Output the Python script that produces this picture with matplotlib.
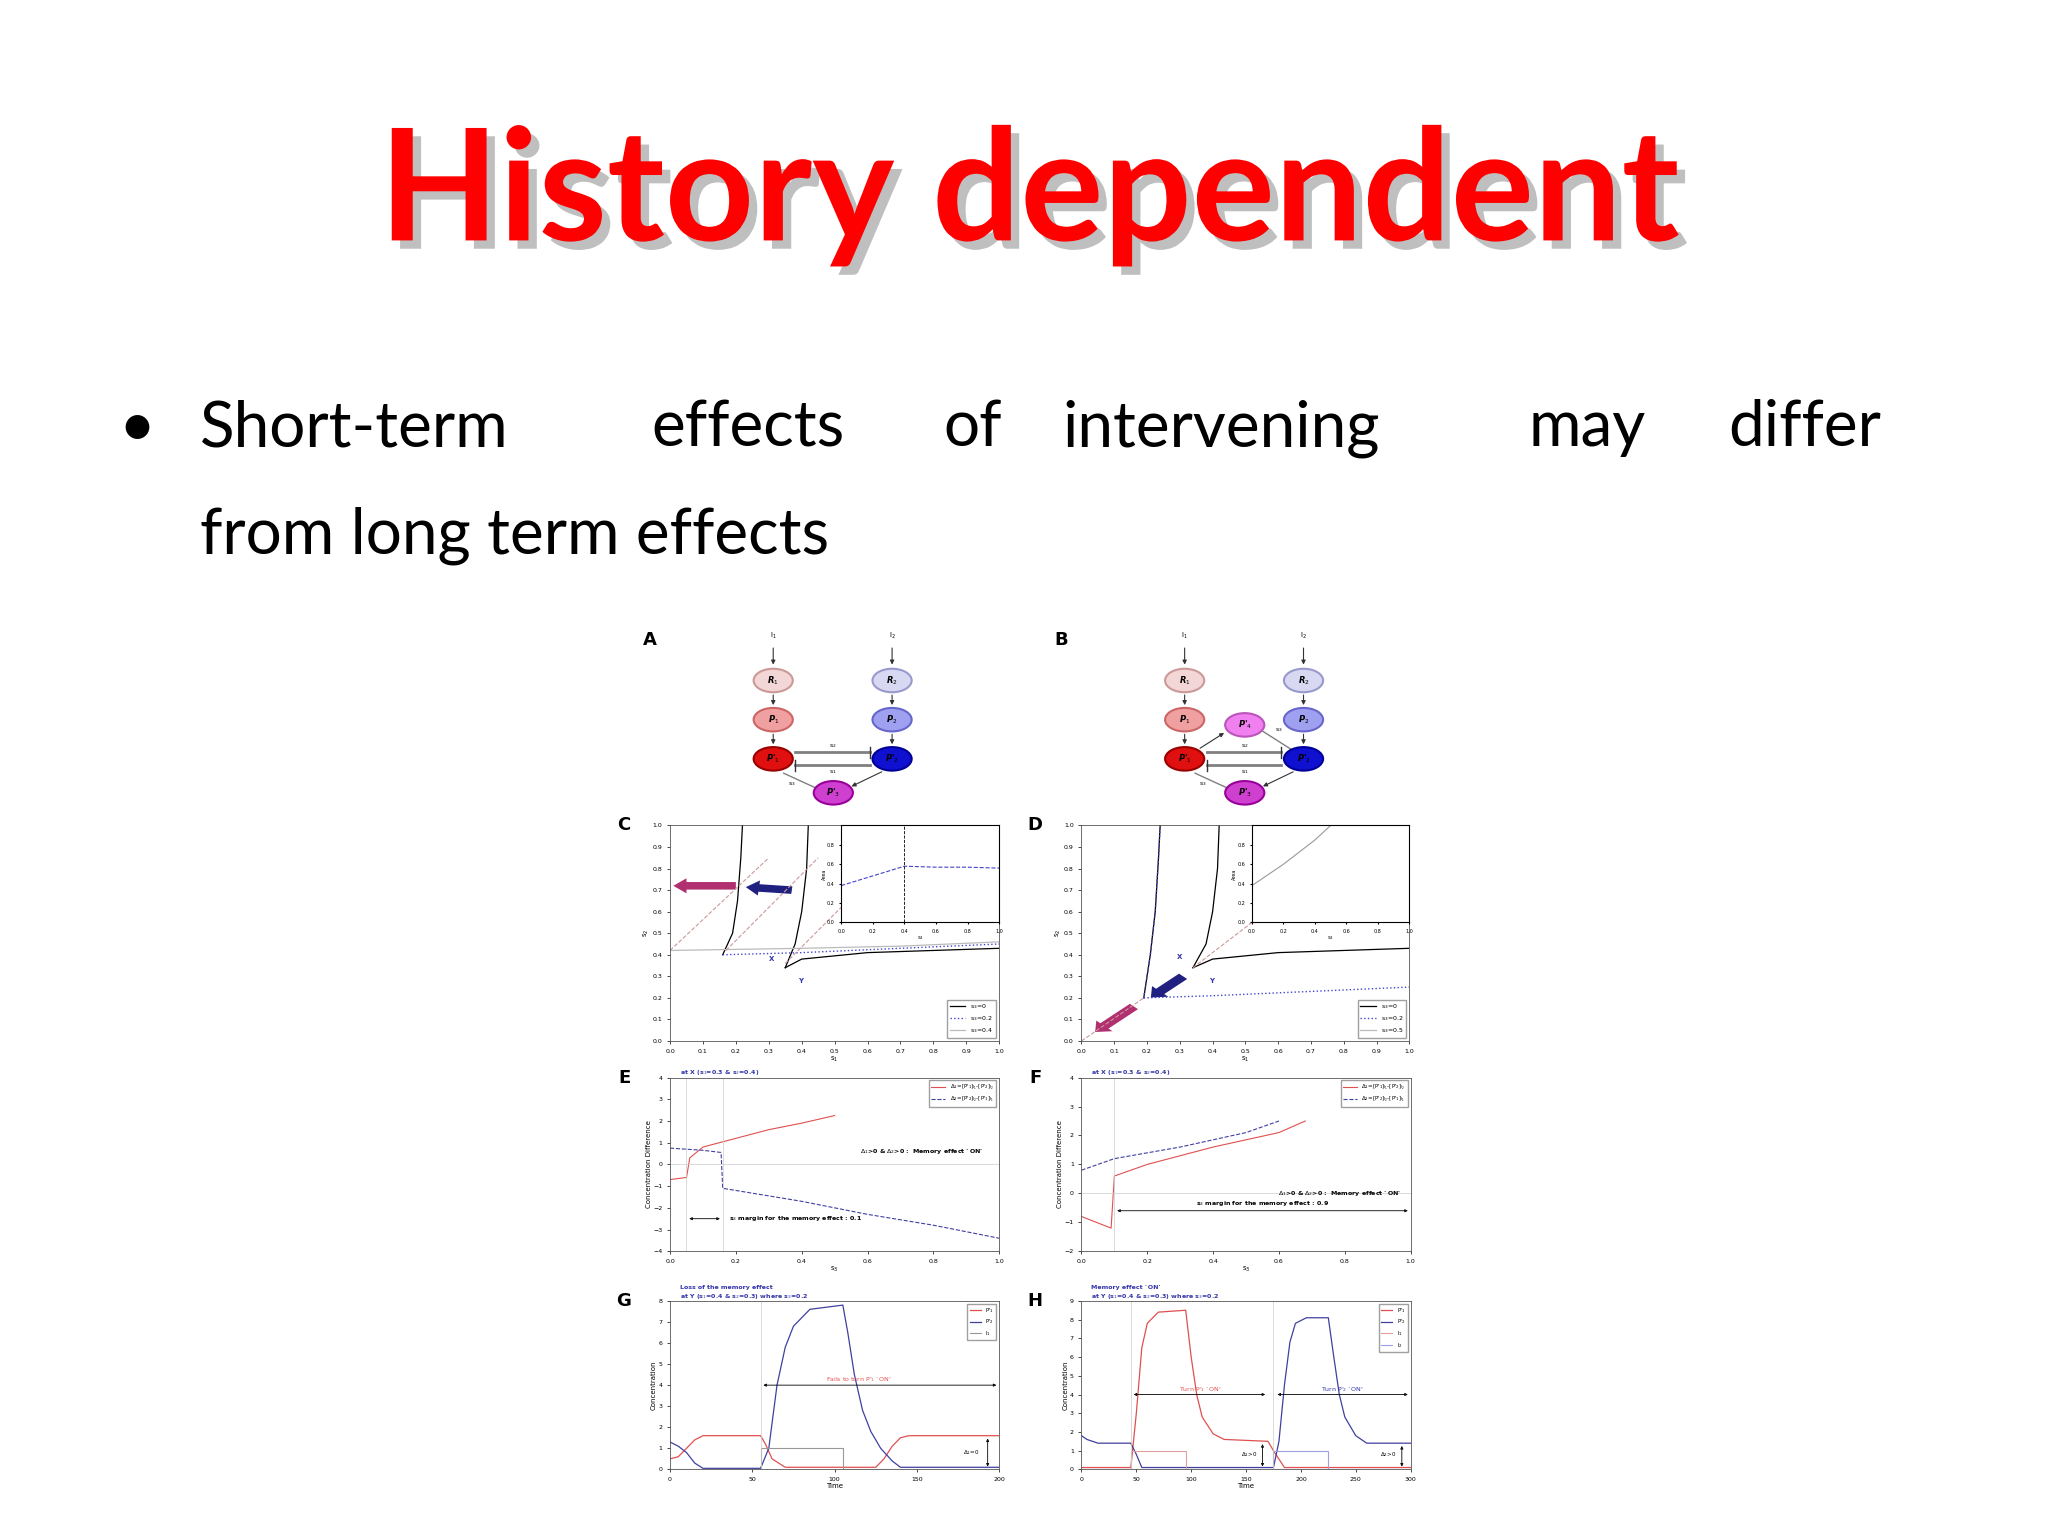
import matplotlib
matplotlib.use("Agg")
import matplotlib.pyplot as plt
from matplotlib.patches import Ellipse, FancyArrow
import matplotlib.patheffects as pe

W, H = 1568, 1176
fig = plt.figure(figsize=(20.48, 15.36), dpi=100)
ov = fig.add_axes([0, 0, 1, 1])
ov.set_xlim(0, W); ov.set_ylim(H, 0); ov.axis('off')

title = "History dependent"
line1_words = ["Short-term", "effects", "of", "intervening", "may", "differ"]
line1_x = [153, 499, 722, 813, 1170, 1323]
line2 = "from long term effects"

ov.text(788, 150, title, color='red', fontsize=112, fontweight='bold', family='Lato',
        ha='center', va='center',
        path_effects=[pe.withSimplePatchShadow(offset=(6, -6), shadow_rgbFace='gray', alpha=0.5)])
ov.text(105, 328, "•", fontsize=46, family='Lato', va='center', ha='center')
for w, x in zip(line1_words, line1_x):
    ov.text(x, 328, w, fontsize=46, family='Lato', va='center', ha='left')
ov.text(153, 410, line2, fontsize=46, family='Lato', va='center', ha='left')

def axpos(x0, x1, y0, y1):
    return [x0 / W, 1 - y1 / H, (x1 - x0) / W, (y1 - y0) / H]

# ---- network diagrams ----
def node(x, y, lab, fc, ec):
    ov.add_patch(Ellipse((x, y), 30, 18, fc=fc, ec=ec, lw=1.5, zorder=3))
    ov.text(x, y, lab, fontsize=6, style='italic', fontweight='bold', ha='center', va='center', zorder=4)

def arr(x0, y0, x1, y1):
    ov.annotate("", xy=(x1, y1), xytext=(x0, y0), arrowprops=dict(arrowstyle='-|>', lw=0.8, color='#333', mutation_scale=6))

def diagram(ox, extra):
    ov.text(ox - 100, 490, "A" if not extra else "B", fontsize=13, fontweight='bold', va='center')
    ov.text(ox, 488, "I$_1$", fontsize=5, ha='center'); ov.text(ox + 91, 488, "I$_2$", fontsize=5, ha='center')
    for xx in (ox, ox + 91):
        arr(xx, 494, xx, 511); arr(xx, 530, xx, 542); arr(xx, 560, xx, 572)
    node(ox, 521, "R$_1$", '#f3d6d6', '#c99'); node(ox + 91, 521, "R$_2$", '#d8d8f3', '#99c')
    node(ox, 551, "P$_1$", '#f0a0a0', '#c66'); node(ox + 91, 551, "P$_2$", '#a0a0f0', '#66c')
    node(ox, 581, "P'$_1$", '#e01010', '#900'); node(ox + 91, 581, "P'$_2$", '#1010d0', '#009')
    node(ox + 46, 607, "P'$_3$", '#d040d0', '#909')
    ov.plot([ox + 17, ox + 74], [576, 576], color='gray', lw=2); ov.plot([ox + 74, ox + 74], [572, 580], color='#333', lw=1)
    ov.plot([ox + 17, ox + 74], [586, 586], color='gray', lw=2); ov.plot([ox + 17, ox + 17], [582, 590], color='#333', lw=1)
    ov.text(ox + 46, 574, "s$_2$", fontsize=4.5, ha='center', va='bottom')
    ov.text(ox + 46, 588, "s$_1$", fontsize=4.5, ha='center', va='top')
    arr(ox + 85, 590, ox + 58, 603)
    ov.plot([ox + 32, ox + 8], [603, 592], color='gray', lw=1)
    ov.text(ox + 14, 601, "s$_3$", fontsize=4.5, ha='center')
    if extra:
        node(ox + 46, 555, "P'$_4$", '#f080f0', '#b5b')
        arr(ox + 10, 574, ox + 32, 560)
        ov.plot([ox + 60, ox + 82], [560, 574], color='gray', lw=1)
        ov.text(ox + 72, 560, "s$_3$", fontsize=4.5, ha='center')

diagram(592, False)
diagram(907, True)

def style(ax, letter, xt, yt, xl=None, yl=None):
    ax.set_xticks(xt); ax.set_yticks(yt)
    ax.tick_params(labelsize=4.5, length=2, width=0.5)
    for s in ax.spines.values():
        s.set_linewidth(0.6); s.set_color('#555')
    if xl: ax.set_xlabel(xl, fontsize=5, labelpad=1)
    if yl: ax.set_ylabel(yl, fontsize=5, labelpad=1)
    ax.text(-0.12, 1.0, letter, transform=ax.transAxes, fontsize=13, fontweight='bold', va='center', ha='right')

# ---- C ----
cC_s0_left_x = [0.35, 0.38, 0.40, 0.415, 0.42]; cC_s0_left_y = [0.34, 0.45, 0.6, 0.8, 1.0]
cC_s0_right_x = [0.35, 0.4, 0.6, 0.8, 1.0]; cC_s0_right_y = [0.34, 0.38, 0.41, 0.42, 0.43]
cC_s2_left_x = [0.16, 0.19, 0.205, 0.215, 0.22]; cC_s2_left_y = [0.40, 0.5, 0.65, 0.85, 1.0]
cC_s2_h_x = [0.16, 0.4, 0.7, 1.0]; cC_s2_h_y = [0.40, 0.41, 0.43, 0.45]
cC_s4_h_x = [0.0, 0.4, 0.7, 1.0]; cC_s4_h_y = [0.42, 0.43, 0.44, 0.46]
cC_diag = [([0.0, 0.3], [0.42, 0.85]), ([0.17, 0.45], [0.42, 0.85]), ([0.35, 0.52], [0.36, 0.62])]
cC_in_x = [0, 0.4, 0.6, 0.8, 1.0]; cC_in_y = [0.38, 0.58, 0.57, 0.57, 0.56]
cC_legend = ["s$_3$=0", "s$_3$=0.2", "s$_3$=0.4"]
ticks01 = [0, 0.1, 0.2, 0.3, 0.4, 0.5, 0.6, 0.7, 0.8, 0.9, 1]

axC = fig.add_axes(axpos(513, 765, 632, 797))
l0, = axC.plot(cC_s0_left_x, cC_s0_left_y, 'k-', lw=0.9)
axC.plot(cC_s0_right_x, cC_s0_right_y, 'k-', lw=0.9)
axC.plot(cC_s2_left_x, cC_s2_left_y, 'k-', lw=0.9)
l2, = axC.plot(cC_s2_h_x, cC_s2_h_y, color='#44c', ls=':', lw=1)
l4, = axC.plot(cC_s4_h_x, cC_s4_h_y, color='#bbb', ls='-', lw=0.9)
for dx, dy in cC_diag:
    axC.plot(dx, dy, color='#c99', ls='--', lw=0.8)
axC.set_xlim(0, 1); axC.set_ylim(0, 1)
style(axC, "C", ticks01, ticks01, "s$_1$", "s$_2$")
axC.add_patch(FancyArrow(0.2, 0.72, -0.15, 0, width=0.035, head_width=0.07, head_length=0.04, color='#b03070', lw=0))
axC.add_patch(FancyArrow(0.37, 0.70, -0.1, 0.01, width=0.035, head_width=0.07, head_length=0.04, color='#202080', lw=0))
axC.text(0.3, 0.37, "X", color='#33a', fontsize=5, fontweight='bold'); axC.text(0.39, 0.27, "Y", color='#33a', fontsize=5, fontweight='bold')
axC.legend([l0, l2, l4], cC_legend, fontsize=4.5, loc='lower right', handlelength=2.5, fancybox=False, edgecolor='#888')
inC = axC.inset_axes([0.52, 0.55, 0.48, 0.45])
inC.plot(cC_in_x, cC_in_y, color='#44c', ls='--', lw=0.8)
inC.axvline(0.4, color='k', ls='--', lw=0.6)
inC.set_xlim(0, 1); inC.set_ylim(0, 1)
inC.set_xticks([0, 0.2, 0.4, 0.6, 0.8, 1]); inC.set_yticks([0, 0.2, 0.4, 0.6, 0.8])
inC.tick_params(labelsize=3.5, length=1.5); inC.set_xlabel("s$_3$", fontsize=4, labelpad=0); inC.set_ylabel("Area", fontsize=3.5, labelpad=0)

# ---- D ----
dD_left_x = [0.19, 0.21, 0.225, 0.235, 0.24]; dD_left_y = [0.20, 0.4, 0.6, 0.85, 1.0]
dD_mid_x = [0.34, 0.38, 0.40, 0.415, 0.42]; dD_mid_y = [0.34, 0.45, 0.6, 0.8, 1.0]
dD_right_x = [0.34, 0.4, 0.6, 0.8, 1.0]; dD_right_y = [0.34, 0.38, 0.41, 0.42, 0.43]
dD_s2_x = [0.19, 0.4, 0.7, 1.0]; dD_s2_y = [0.20, 0.21, 0.23, 0.25]
dD_diag = [([0.0, 0.19], [0.0, 0.20]), ([0.34, 0.52], [0.34, 0.55])]
dD_in_x = [0, 0.2, 0.4, 0.5, 0.7, 1.0]; dD_in_y = [0.38, 0.6, 0.85, 1.0, 1.0, 1.0]
dD_legend = ["s$_3$=0", "s$_3$=0.2", "s$_3$=0.5"]

axD = fig.add_axes(axpos(828, 1079, 632, 797))
l0, = axD.plot(dD_left_x, dD_left_y, 'k-', lw=0.9)
axD.plot(dD_left_x, dD_left_y, color='#44c', ls=':', lw=1)
axD.plot(dD_mid_x, dD_mid_y, 'k-', lw=0.9)
axD.plot(dD_right_x, dD_right_y, 'k-', lw=0.9)
l2, = axD.plot(dD_s2_x, dD_s2_y, color='#44c', ls=':', lw=1)
l4, = axD.plot([], [], color='#bbb', lw=0.9)
for dx, dy in dD_diag:
    axD.plot(dx, dy, color='#c99', ls='--', lw=0.8)
axD.set_xlim(0, 1); axD.set_ylim(0, 1)
style(axD, "D", ticks01, ticks01, "s$_1$", "s$_2$")
axD.add_patch(FancyArrow(0.31, 0.30, -0.07, -0.07, width=0.035, head_width=0.07, head_length=0.04, color='#202080', lw=0))
axD.add_patch(FancyArrow(0.16, 0.16, -0.09, -0.09, width=0.035, head_width=0.07, head_length=0.04, color='#b03070', lw=0))
axD.text(0.29, 0.38, "X", color='#33a', fontsize=5, fontweight='bold'); axD.text(0.39, 0.27, "Y", color='#33a', fontsize=5, fontweight='bold')
axD.legend([l0, l2, l4], dD_legend, fontsize=4.5, loc='lower right', handlelength=2.5, fancybox=False, edgecolor='#888')
inD = axD.inset_axes([0.52, 0.55, 0.48, 0.45])
inD.plot(dD_in_x, dD_in_y, color='#999', ls='-', lw=0.8)
inD.set_xlim(0, 1); inD.set_ylim(0, 1)
inD.set_xticks([0, 0.2, 0.4, 0.6, 0.8, 1]); inD.set_yticks([0, 0.2, 0.4, 0.6, 0.8])
inD.tick_params(labelsize=3.5, length=1.5); inD.set_xlabel("s$_3$", fontsize=4, labelpad=0); inD.set_ylabel("Area", fontsize=3.5, labelpad=0)

# ---- E ----
eE_d1_x = [0, 0.05, 0.06, 0.1, 0.2, 0.3, 0.4, 0.5]; eE_d1_y = [-0.7, -0.6, 0.3, 0.8, 1.2, 1.6, 1.9, 2.25]
eE_d2_x = [0, 0.1, 0.155, 0.16, 0.4, 0.6, 0.8, 1.0]; eE_d2_y = [0.75, 0.65, 0.55, -1.1, -1.7, -2.3, -2.8, -3.4]
leg_E = [r"$\Delta_1$=[P'$_1$]$_{I_1}$-[P'$_2$]$_{I_2}$", r"$\Delta_2$=[P'$_2$]$_{I_2}$-[P'$_1$]$_{I_1}$"]
ticks02 = [0, 0.2, 0.4, 0.6, 0.8, 1]

axE = fig.add_axes(axpos(513, 765, 825, 958))
a1, = axE.plot(eE_d1_x, eE_d1_y, color='#e05050', lw=0.8)
a2, = axE.plot(eE_d2_x, eE_d2_y, color='#4040a0', ls='--', lw=0.8)
axE.axhline(0, color='#ccc', lw=0.5); axE.axvline(0.05, color='#ccc', lw=0.5); axE.axvline(0.16, color='#ccc', lw=0.5)
axE.set_xlim(0, 1); axE.set_ylim(-4, 4)
style(axE, "E", ticks02, range(-4, 5), "s$_3$", "Concentration Difference")
axE.annotate("", xy=(0.05, -2.5), xytext=(0.16, -2.5), arrowprops=dict(arrowstyle='<|-|>', lw=0.6, mutation_scale=4))
axE.text(0.18, -2.5, "s$_3$ margin for the memory effect : 0.1", fontsize=4.5, fontweight='bold', va='center')
axE.text(0.95, 0.6, r"$\Delta_1$>0 & $\Delta_2$>0 :  Memory effect `ON'", fontsize=4.5, fontweight='bold', ha='right', va='center')
axE.text(0.03, 1.02, "at X (s$_1$=0.3 & s$_2$=0.4)", transform=axE.transAxes, fontsize=4.5, color='#33a', fontweight='bold')
axE.legend([a1, a2], leg_E, fontsize=4, loc='upper right', fancybox=False, edgecolor='#888', handlelength=2.5)

# ---- F ----
fF_d1_x = [0, 0.09, 0.1, 0.2, 0.4, 0.6, 0.68]; fF_d1_y = [-0.8, -1.2, 0.6, 1.0, 1.6, 2.1, 2.5]
fF_d2_x = [0, 0.1, 0.3, 0.5, 0.6]; fF_d2_y = [0.8, 1.2, 1.6, 2.1, 2.5]

axF = fig.add_axes(axpos(828, 1080, 825, 958))
a1, = axF.plot(fF_d1_x, fF_d1_y, color='#e05050', lw=0.8)
a2, = axF.plot(fF_d2_x, fF_d2_y, color='#4040a0', ls='--', lw=0.8)
axF.axhline(0, color='#ccc', lw=0.5); axF.axvline(0.1, color='#ccc', lw=0.5)
axF.set_xlim(0, 1); axF.set_ylim(-2, 4)
style(axF, "F", ticks02, range(-2, 5), "s$_3$", "Concentration Difference")
axF.annotate("", xy=(0.1, -0.6), xytext=(1.0, -0.6), arrowprops=dict(arrowstyle='<|-|>', lw=0.6, mutation_scale=4))
axF.text(0.55, -0.35, "s$_3$ margin for the memory effect : 0.9", fontsize=4.5, fontweight='bold', ha='center', va='center')
axF.text(0.97, 0.0, r"$\Delta_1$>0 & $\Delta_2$>0 :  Memory effect `ON'", fontsize=4.5, fontweight='bold', ha='right', va='center')
axF.text(0.03, 1.02, "at X (s$_1$=0.3 & s$_2$=0.4)", transform=axF.transAxes, fontsize=4.5, color='#33a', fontweight='bold')
axF.legend([a1, a2], leg_E, fontsize=4, loc='upper right', fancybox=False, edgecolor='#888', handlelength=2.5)

# ---- G ----
gG_t1 = [0, 5, 10, 15, 20, 55, 58, 62, 70, 125, 130, 135, 140, 145, 200]
gG_p1 = [0.5, 0.6, 1.0, 1.4, 1.6, 1.6, 1.2, 0.5, 0.1, 0.1, 0.5, 1.1, 1.5, 1.6, 1.6]
gG_t2 = [0, 5, 10, 15, 20, 55, 60, 65, 70, 75, 85, 105, 108, 112, 117, 122, 128, 135, 140, 200]
gG_p2 = [1.3, 1.1, 0.8, 0.3, 0.05, 0.05, 1.0, 4, 5.8, 6.8, 7.6, 7.8, 6.5, 4.5, 2.8, 1.8, 1.0, 0.4, 0.1, 0.1]
gG_ti = [0, 55, 55, 105, 105, 200]
gG_i1 = [0, 0, 1, 1, 0, 0]

axG = fig.add_axes(axpos(513, 765, 996, 1125))
g1, = axG.plot(gG_t1, gG_p1, color='#e05050', lw=0.9)
g2, = axG.plot(gG_t2, gG_p2, color='#4040a0', ls='-', lw=0.9)
g3, = axG.plot(gG_ti, gG_i1, color='#999', lw=0.8)
axG.axvline(55, color='#ccc', lw=0.5)
axG.set_xlim(0, 200); axG.set_ylim(0, 8)
style(axG, "G", [0, 50, 100, 150, 200], range(0, 9), "Time", "Concentration")
axG.annotate("", xy=(55, 4), xytext=(200, 4), arrowprops=dict(arrowstyle='<|-|>', lw=0.6, mutation_scale=4))
axG.text(115, 4.2, "Fails to turn P'$_1$ `ON'", fontsize=4.5, color='#e05050', ha='center')
axG.annotate("", xy=(193, 0), xytext=(193, 1.6), arrowprops=dict(arrowstyle='<|-|>', lw=0.6, mutation_scale=4))
axG.text(188, 0.8, r"$\Delta_1$=0", fontsize=4, ha='right', va='center')
axG.text(0.03, 1.02, "Loss of the memory effect\nat Y (s$_1$=0.4 & s$_2$=0.3) where s$_3$=0.2", transform=axG.transAxes,
         fontsize=4.5, color='#33a', fontweight='bold')
axG.legend([g1, g2, g3], ["P'$_1$", "P'$_2$", "I$_1$"], fontsize=4, loc='upper right', fancybox=False, edgecolor='#888')

# ---- H ----
hH_t1 = [0, 45, 50, 55, 60, 70, 95, 100, 105, 110, 120, 130, 170, 175, 185, 300]
hH_p1 = [0.1, 0.1, 3, 6.5, 7.8, 8.4, 8.5, 6, 4, 2.8, 1.9, 1.6, 1.5, 1.0, 0.1, 0.1]
hH_t2 = [0, 5, 15, 45, 50, 55, 175, 180, 185, 190, 195, 205, 225, 230, 235, 240, 250, 260, 300]
hH_p2 = [1.8, 1.6, 1.4, 1.4, 0.8, 0.1, 0.1, 1.5, 4.5, 6.8, 7.8, 8.1, 8.1, 6, 4, 2.8, 1.8, 1.4, 1.4]
hH_ti = [0, 45, 45, 95, 95, 175, 175, 225, 225, 300]
hH_i1 = [0, 0, 1, 1, 0, 0, 0, 0, 0, 0]
hH_i2 = [0, 0, 0, 0, 0, 0, 1, 1, 0, 0]

axH = fig.add_axes(axpos(828, 1080, 996, 1125))
h1, = axH.plot(hH_t1, hH_p1, color='#e05050', lw=0.9)
h2, = axH.plot(hH_t2, hH_p2, color='#4040a0', lw=0.9)
h3, = axH.plot(hH_ti, hH_i1, color='#e0a0a0', lw=0.8)
h4, = axH.plot(hH_ti, hH_i2, color='#a0a0e0', lw=0.8)
axH.axvline(45, color='#ccc', lw=0.5); axH.axvline(175, color='#ccc', lw=0.5)
axH.set_xlim(0, 300); axH.set_ylim(0, 9)
style(axH, "H", [0, 50, 100, 150, 200, 250, 300], range(0, 10), "Time", "Concentration")
axH.annotate("", xy=(45, 4), xytext=(170, 4), arrowprops=dict(arrowstyle='<|-|>', lw=0.6, mutation_scale=4))
axH.annotate("", xy=(176, 4), xytext=(300, 4), arrowprops=dict(arrowstyle='<|-|>', lw=0.6, mutation_scale=4))
axH.text(108, 4.2, "Turn P'$_1$ `ON'", fontsize=4.5, color='#e05050', ha='center')
axH.text(238, 4.2, "Turn P'$_2$ `ON'", fontsize=4.5, color='#33a', ha='center')
axH.annotate("", xy=(165, 0), xytext=(165, 1.5), arrowprops=dict(arrowstyle='<|-|>', lw=0.6, mutation_scale=4))
axH.text(160, 0.8, r"$\Delta_1$>0", fontsize=4, ha='right', va='center')
axH.annotate("", xy=(292, 0), xytext=(292, 1.4), arrowprops=dict(arrowstyle='<|-|>', lw=0.6, mutation_scale=4))
axH.text(287, 0.8, r"$\Delta_2$>0", fontsize=4, ha='right', va='center')
axH.text(0.03, 1.02, "Memory effect `ON'\nat Y (s$_1$=0.4 & s$_2$=0.3) where s$_3$=0.2", transform=axH.transAxes,
         fontsize=4.5, color='#33a', fontweight='bold')
axH.legend([h1, h2, h3, h4], ["P'$_1$", "P'$_2$", "I$_1$", "I$_2$"], fontsize=4, loc='upper right', fancybox=False, edgecolor='#888')

fig.savefig("out.png", dpi=100)
